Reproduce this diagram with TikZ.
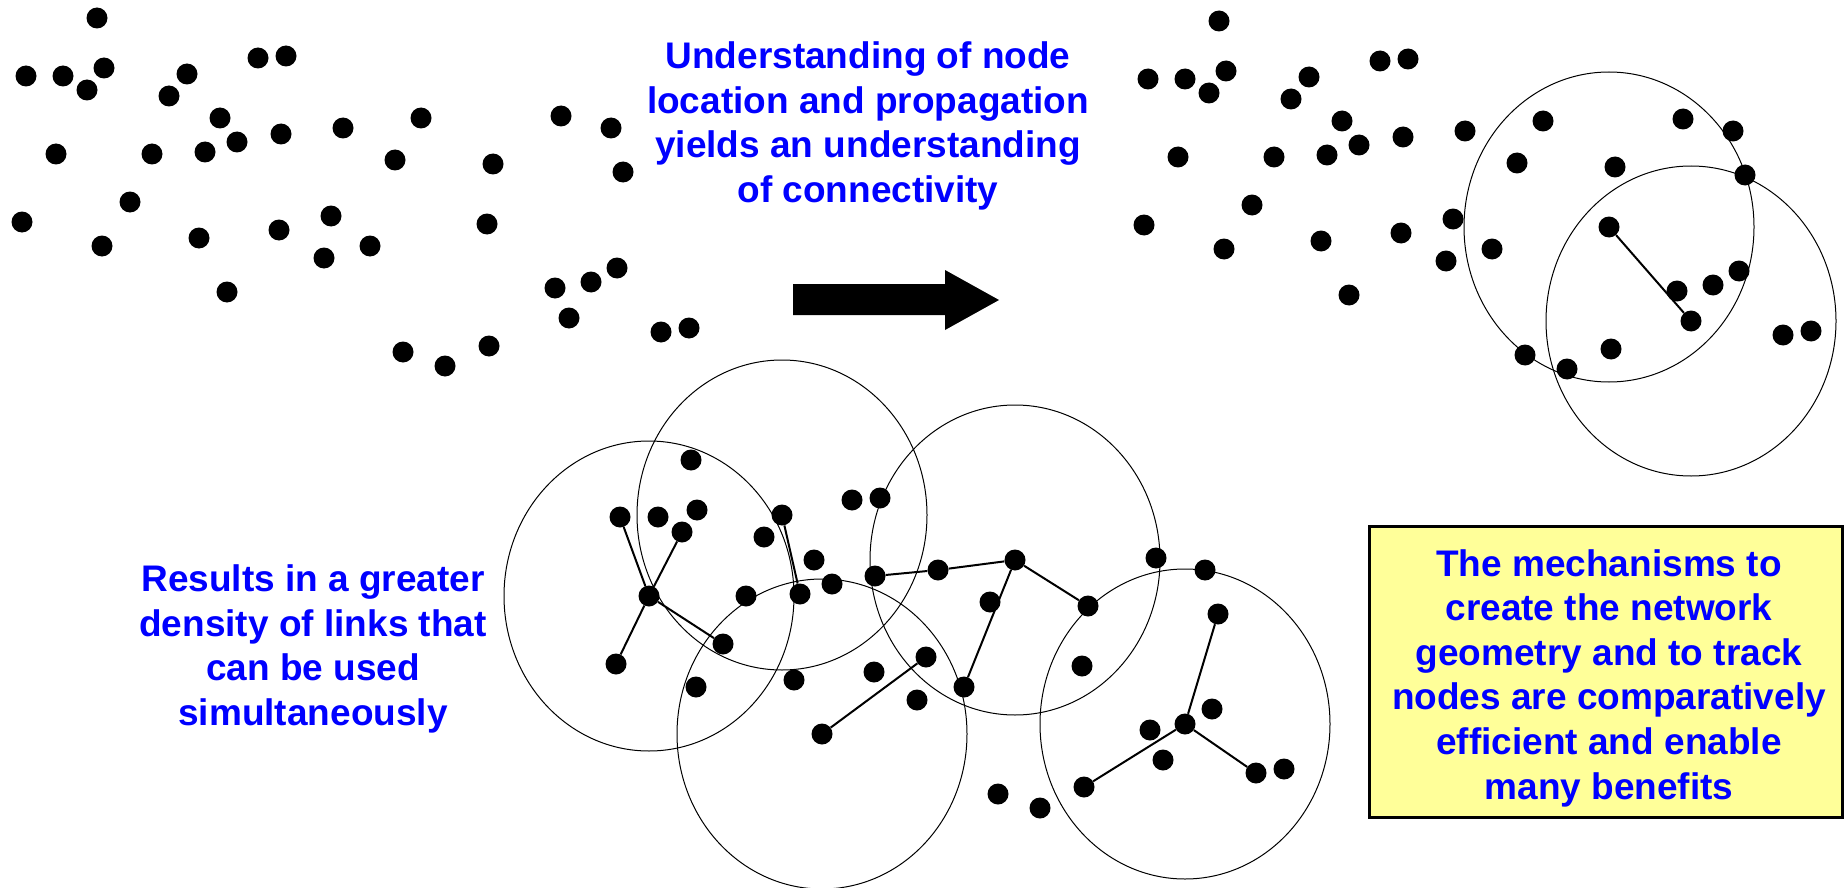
\documentclass[tikz,border=0pt]{standalone}
\usepackage{fontspec}
\setmainfont{Liberation Sans}
\usetikzlibrary{backgrounds}
\definecolor{notetext}{RGB}{0,0,255}
\definecolor{notefill}{RGB}{255,255,153}
\tikzset{
  dot/.style={circle, fill=black, inner sep=0pt, minimum size=21pt},
  link/.style={line width=2pt},
  reach/.style={line width=1pt},
  note/.style={
    align=center, text=notetext, inner sep=0pt,
    font=\fontsize{37}{44.6}\selectfont\bfseries
  },
  panel/.style={draw=black, line width=2.5pt, fill=notefill, minimum width=473pt, minimum height=291pt},
}

\begin{document}
\begin{tikzpicture}[x=1pt, y=-1pt]
  \useasboundingbox (0,0) rectangle (1845,888);
  % scattered nodes, before (a) and after (b) the arrow
  \foreach \x/\y [count=\i] in {97/18, 26/76, 63/76, 104/68, 87/90, 187/74, 169/96, 258/58, 286/56, 220/118,
      281/134, 343/128, 421/118, 395/160, 493/164, 561/116, 611/128, 623/172, 56/154, 152/154,
      205/152, 237/142, 130/202, 22/222, 102/246, 199/238, 279/230, 331/216, 370/246, 324/258,
      487/224, 227/292, 555/288, 591/282, 617/268, 569/318, 661/332, 689/328, 403/352, 445/366, 489/346} {
    \node[dot] (a\i) at (\x,\y) {};
    \node[dot] (b\i) at (\x+1122,\y+3) {};
  }
  \draw[link] (b31) -- (b36);
  % connected network
  \foreach \x/\y [count=\i] in {691/460, 620/517, 658/517, 697/510, 682/532, 649/596, 616/664, 723/644, 746/596, 764/537,
      782/515, 800/594, 814/560, 832/584, 852/500, 880/498, 875/576, 938/570, 1015/560, 1088/606,
      1156/558, 990/602, 964/687, 926/657, 874/672, 917/700, 794/680, 696/687, 822/734, 1082/666,
      998/794, 1040/808, 1084/787, 1150/730, 1163/760, 1205/570, 1218/614, 1212/709, 1185/724, 1256/773, 1284/769} {
    \node[dot] (c\i) at (\x,\y) {};
  }
  \foreach \from/\to in {c6/c2, c6/c5, c6/c7, c6/c8, c11/c12, c17/c18, c18/c19, c19/c20, c19/c23, c24/c29,
      c37/c39, c39/c33, c39/c40} {
    \draw[link] (\from) -- (\to);
  }
  % radio ranges
  \begin{scope}[on background layer]
    \foreach \hub in {b31, b36, c6, c11, c19, c29, c39} {
      \draw[reach] (\hub) ellipse [x radius=145pt, y radius=155pt];
    }
  \end{scope}
  % arrow
  \fill (793,284) -- (945,284) -- (945,270) -- (999,300) -- (945,330) -- (945,315) -- (793,315) -- cycle;
  % texts
  \node[note] (connect) at (868,126) {Understanding of node\\location and propagation\\yields an understanding\\of connectivity};
  \node[note] (density) at (313,649) {Results in a greater\\density of links that\\can be used\\simultaneously};
  \node[panel] (box) at (1606,672) {};
  \node[note] (benefits) at ([xshift=3pt, yshift=-6pt]box.center) {The mechanisms to\\create the network\\geometry and to track\\nodes are comparatively\\efficient and enable\\many benefits};
\end{tikzpicture}
\end{document}
